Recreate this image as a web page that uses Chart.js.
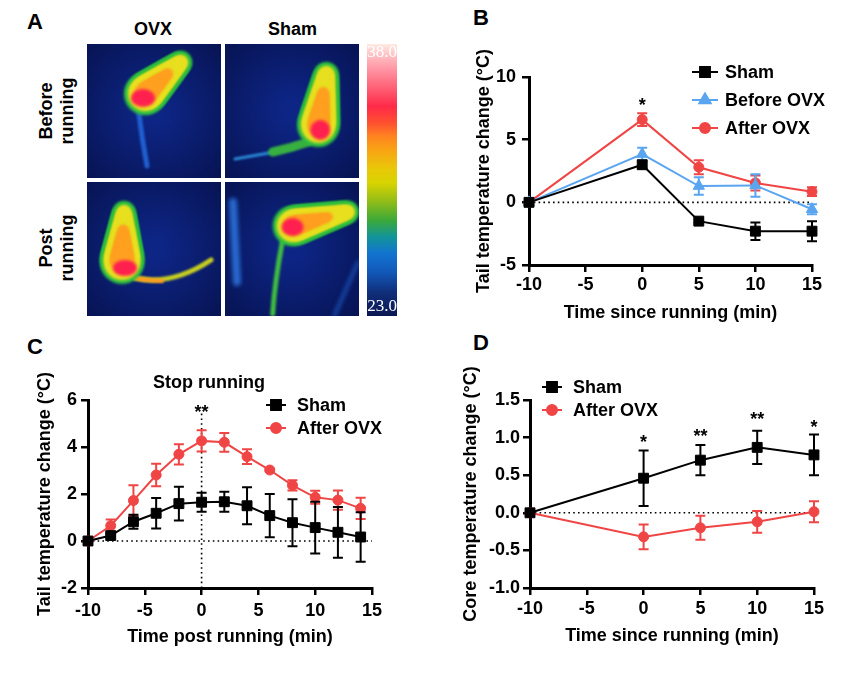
<!DOCTYPE html>
<html>
<head>
<meta charset="utf-8">
<script src="https://cdn.jsdelivr.net/npm/chart.js@4.4.1/dist/chart.umd.min.js"></script>
<style>
  body { margin: 0; background: #fff; }
  #page { position: relative; width: 846px; height: 686px; overflow: hidden;
          font-family: "Liberation Sans", Arial, sans-serif; font-weight: bold; color: #000; }
  .layer { position: absolute; left: 0; top: 0; }
  .tag { position: absolute; font-size: 22px; line-height: 22px; }
  .txt { position: absolute; font-size: 18px; line-height: 20px; white-space: nowrap; }
  .rot { position: absolute; font-size: 18px; line-height: 21px; text-align: center;
         transform: translate(-50%, -50%) rotate(-90deg); white-space: nowrap; }
  .thermo { position: absolute; width: 134px; height: 134px; }
  #bar { position: absolute; left: 367px; top: 44px; width: 30px; height: 272px;
         background: linear-gradient(to bottom, #ffeae2 0%, #ffb0b8 6%, #ff8898 11%, #ff2a48 23%,
           #ff5030 29%, #ff8420 34%, #f8a414 39%, #e8c808 46%, #d8d400 51%, #90bc18 58%,
           #3aa83a 65%, #12949a 71%, #1274d0 77%, #1258b8 84%, #10307c 91%, #0b1650 100%); }
  .bartxt { position: absolute; left: 366px; width: 32px; text-align: center;
            font: 17px "Liberation Serif", "Times New Roman", serif; color: #fff; }
</style>
</head>
<body>
<div id="page">
  <div class="tag" style="left:27px;top:11px;">A</div>
  <div class="tag" style="left:473px;top:7px;">B</div>
  <div class="tag" style="left:27px;top:336px;">C</div>
  <div class="tag" style="left:473px;top:332px;">D</div>

  <div class="txt" style="left:134px;top:19px;">OVX</div>
  <div class="txt" style="left:268px;top:19px;">Sham</div>
  <div class="rot" style="left:57px;top:111px;">Before<br>running</div>
  <div class="rot" style="left:57px;top:248px;">Post<br>running</div>

  <canvas class="thermo" id="imgTL" width="134" height="134" style="left:87px;top:44px;"></canvas>
  <canvas class="thermo" id="imgTR" width="135" height="134" style="left:225px;top:44px;"></canvas>
  <canvas class="thermo" id="imgBL" width="134" height="134" style="left:87px;top:182px;"></canvas>
  <canvas class="thermo" id="imgBR" width="135" height="134" style="left:225px;top:182px;"></canvas>
  <div id="bar"></div>
  <div class="bartxt" style="top:42px;">38.0</div>
  <div class="bartxt" style="top:296px;">23.0</div>

  <canvas class="layer" id="chartB" width="846" height="686"></canvas>
  <canvas class="layer" id="chartC" width="846" height="686"></canvas>
  <canvas class="layer" id="chartD" width="846" height="686"></canvas>
</div>

<script>
// ===== Data =====

// Panel B: tail temperature, time since running
const timeB = [-10, 0, 5, 10, 15];
const shamB = [0, 3.0, -1.5, -2.3, -2.3];
const shamBErr = [0, 0.3, 0.15, 0.7, 0.8];
const beforeB = [0, 3.85, 1.3, 1.35, -0.55];
const beforeBErr = [0, 0.5, 0.7, 0.9, 0.4];
const afterB = [0, 6.6, 2.8, 1.55, 0.85];
const afterBErr = [0, 0.5, 0.55, 0.6, 0.35];

// Panel C: tail temperature, time post running
const timeC = [-10, -8, -6, -4, -2, 0, 2, 4, 6, 8, 10, 12, 14];
const shamC = [0, 0.23, 0.82, 1.18, 1.59, 1.65, 1.67, 1.5, 1.08, 0.78, 0.57, 0.37, 0.17];
const shamCErr = [0, 0.08, 0.3, 0.65, 0.72, 0.4, 0.43, 0.79, 0.92, 1.0, 1.1, 1.08, 1.05];
const afterC = [0, 0.65, 1.72, 2.81, 3.69, 4.26, 4.2, 3.59, 3.02, 2.37, 1.86, 1.74, 1.39];
const afterCErr = [0, 0.27, 0.65, 0.48, 0.43, 0.45, 0.4, 0.31, 0.05, 0.22, 0.28, 0.41, 0.45];

// Panel D: core temperature
const timeD = [-10, 0, 5, 10, 15];
const shamD = [0, 0.46, 0.7, 0.87, 0.77];
const shamDErr = [0, 0.37, 0.2, 0.22, 0.27];
const afterD = [0, -0.32, -0.2, -0.12, 0.015];
const afterDErr = [0, 0.165, 0.16, 0.145, 0.14];

// significance marks  [x, y, text]
const starsB = [[0, 8.1, '*']];
const starsC = [[0, 5.66, '**']];
const starsD = [[0, 1.0, '*'], [5, 1.08, '**'], [10, 1.31, '**'], [15, 1.2, '*']];

const BLACK = '#000000';
const BLUE = '#5aa5f0';
const RED = '#f04545';
const FONT = 'Liberation Sans';

// ===== Helpers =====

function pts(xs, ys) {
  return xs.map((x, i) => ({ x: x, y: ys[i] }));
}

function series(label, xs, ys, errs, color, style, radius) {
  return {
    label: label, data: pts(xs, ys), errors: errs,
    borderColor: color, backgroundColor: color, borderWidth: 2,
    pointStyle: style, pointRadius: radius, pointBorderWidth: 1,
    pointBackgroundColor: color, pointBorderColor: color,
    clip: false, tension: 0
  };
}

function dotted(xs, ys) {
  return {
    label: '', data: pts(xs, ys), borderColor: BLACK, borderWidth: 1.6,
    borderDash: [1.6, 3.2], pointRadius: 0, clip: false
  };
}

// error bars drawn just before each dataset so symbols sit on top
const errorBars = {
  id: 'errorBars',
  beforeDatasetDraw(chart, args) {
    const ds = chart.data.datasets[args.index];
    if (!ds.errors) return;
    const y = chart.scales.y;
    const ctx = chart.ctx;
    ctx.save();
    ctx.strokeStyle = ds.borderColor;
    ctx.lineWidth = 2;
    args.meta.data.forEach((el, i) => {
      const e = ds.errors[i];
      if (!e) return;
      const v = ds.data[i].y;
      const t = y.getPixelForValue(v + e), b = y.getPixelForValue(v - e);
      ctx.beginPath();
      ctx.moveTo(el.x, t); ctx.lineTo(el.x, b);
      ctx.moveTo(el.x - 5, t); ctx.lineTo(el.x + 5, t);
      ctx.moveTo(el.x - 5, b); ctx.lineTo(el.x + 5, b);
      ctx.stroke();
    });
    ctx.restore();
  }
};

// legend: short line with symbol, then label
const lineLegend = {
  id: 'lineLegend',
  afterDraw(chart, args, opts) {
    if (!opts.x) return;
    const ctx = chart.ctx;
    ctx.save();
    ctx.font = 'bold 18px "' + FONT + '"';
    ctx.textBaseline = 'middle';
    chart.data.datasets.filter(d => d.errors).forEach((ds, i) => {
      const y = opts.y + i * opts.dy;
      ctx.strokeStyle = ds.borderColor;
      ctx.fillStyle = ds.borderColor;
      ctx.lineWidth = 2;
      ctx.beginPath();
      ctx.moveTo(opts.x - opts.half, y);
      ctx.lineTo(opts.x + opts.half, y);
      ctx.stroke();
      Chart.helpers.drawPoint(ctx, { pointStyle: ds.pointStyle, radius: ds.pointRadius, rotation: 0, borderWidth: 1 }, opts.x, y);
      ctx.fillStyle = BLACK;
      ctx.fillText(ds.label, opts.textX, y + 1);
    });
    ctx.restore();
  }
};

// text notes placed in data coordinates
const notes = {
  id: 'notes',
  afterDatasetsDraw(chart, args, opts) {
    const ctx = chart.ctx, sx = chart.scales.x, sy = chart.scales.y;
    ctx.save();
    ctx.fillStyle = BLACK;
    ctx.textAlign = 'center';
    (opts.stars || []).forEach(([x, y, t]) => {
      ctx.font = 'bold 18px "' + FONT + '"';
      ctx.textBaseline = 'alphabetic';
      ctx.fillText(t, sx.getPixelForValue(x), sy.getPixelForValue(y) + 10.5);
    });
    (opts.text || []).forEach(([x, y, t]) => {
      ctx.font = 'bold 18px "' + FONT + '"';
      ctx.textBaseline = 'middle';
      ctx.fillText(t, sx.getPixelForValue(x), sy.getPixelForValue(y));
    });
    ctx.restore();
  }
};

// p: plot area in page px, title centres, tick paddings
function panelOptions(p) {
  const tickFont = { family: FONT, size: 18, weight: 'bold' };
  const grid = { display: true, drawOnChartArea: false, drawTicks: true, tickLength: 7,
                 tickWidth: 2.5, tickColor: BLACK, color: BLACK, lineWidth: 2.5 };
  const border = { display: true, color: BLACK, width: 3 };
  const boxLeft = p.yTitleX - 10.8;
  const boxBottom = p.xTitleY + 10.8;
  return {
    responsive: false,
    animation: false,
    layout: { padding: { left: boxLeft, top: p.top, right: 846 - p.right, bottom: 686 - boxBottom } },
    plugins: {
      legend: { display: false },
      tooltip: { enabled: false },
      lineLegend: p.legend,
      notes: p.notes
    },
    scales: {
      x: {
        type: 'linear', min: -10, max: 15,
        ticks: { stepSize: 5, padding: p.xPad, font: tickFont, color: BLACK, maxRotation: 0 },
        grid: grid, border: border,
        title: { display: true, text: p.xTitle, font: tickFont, color: BLACK, padding: 0 },
        afterFit(s) { s.height = boxBottom - p.bottom; }
      },
      y: {
        type: 'linear', min: p.yMin, max: p.yMax,
        ticks: { stepSize: p.yStep, padding: p.yPad, font: tickFont, color: BLACK,
                 callback: v => p.yDec ? v.toFixed(p.yDec) : String(v) },
        grid: grid, border: border,
        title: { display: true, text: p.yTitle, font: tickFont, color: BLACK, padding: 0 },
        afterFit(s) { s.width = p.left - boxLeft; }
      }
    }
  };
}

const plugins = [errorBars, lineLegend, notes];

// ===== Panel B =====
new Chart(document.getElementById('chartB'), {
  type: 'line',
  data: {
    datasets: [
      series('Sham', timeB, shamB, shamBErr, BLACK, 'rect', 7),
      series('Before OVX', timeB, beforeB, beforeBErr, BLUE, 'triangle', 6.5),
      series('After OVX', timeB, afterB, afterBErr, RED, 'circle', 5),
      dotted([-10, 15], [0, 0])
    ]
  },
  options: panelOptions({
    left: 529, right: 812, top: 77, bottom: 265, yTitleX: 484, xTitleY: 313,
    xPad: 2, yPad: 6, yMin: -5, yMax: 10, yStep: 5,
    xTitle: 'Time since running (min)', yTitle: 'Tail temperature change (°C)',
    legend: { x: 705, half: 13, textX: 725, y: 72, dy: 28 },
    notes: { stars: starsB }
  }),
  plugins: plugins
});

// ===== Panel C =====
new Chart(document.getElementById('chartC'), {
  type: 'line',
  data: {
    datasets: [
      series('Sham', timeC, shamC, shamCErr, BLACK, 'rect', 7),
      series('After OVX', timeC, afterC, afterCErr, RED, 'circle', 5),
      dotted([-10, 15], [0, 0]),
      dotted([0, 0], [-2, 5.5])
    ]
  },
  options: panelOptions({
    left: 88, right: 372, top: 400, bottom: 588, yTitleX: 45, xTitleY: 637,
    xPad: 5, yPad: 4, yMin: -2, yMax: 6, yStep: 2,
    xTitle: 'Time post running (min)', yTitle: 'Tail temperature change (°C)',
    legend: { x: 276, half: 10, textX: 297, y: 405, dy: 23 },
    notes: { stars: starsC, text: [[0.65, 6.72, 'Stop running']] }
  }),
  plugins: plugins
});

// ===== Panel D =====
new Chart(document.getElementById('chartD'), {
  type: 'line',
  data: {
    datasets: [
      series('Sham', timeD, shamD, shamDErr, BLACK, 'rect', 7),
      series('After OVX', timeD, afterD, afterDErr, RED, 'circle', 5),
      dotted([-10, 15], [0, 0])
    ]
  },
  options: panelOptions({
    left: 530, right: 814, top: 400, bottom: 588, yTitleX: 471, xTitleY: 636,
    xPad: 3.5, yPad: 3, yMin: -1, yMax: 1.5, yStep: 0.5, yDec: 1,
    xTitle: 'Time since running (min)', yTitle: 'Core temperature change (°C)',
    legend: { x: 552, half: 10, textX: 573, y: 387, dy: 23 },
    notes: { stars: starsD }
  }),
  plugins: plugins
});

// ===== Panel A: thermal pictures (decorative) =====

function thermal(id, rat) {
  const c = document.getElementById(id);
  const ctx = c.getContext('2d');
  const g = ctx.createRadialGradient(67, 67, 10, 67, 67, 110);
  g.addColorStop(0, '#0d2585');
  g.addColorStop(1, '#06104a');
  ctx.fillStyle = g;
  ctx.fillRect(0, 0, c.width, c.height);

  (rat.extra || []).forEach(s => {
    ctx.save();
    ctx.filter = 'blur(2px)';
    ctx.strokeStyle = s.color; ctx.lineWidth = s.w; ctx.lineCap = 'round';
    ctx.beginPath(); ctx.moveTo(s.p[0], s.p[1]); ctx.lineTo(s.p[2], s.p[3]); ctx.stroke();
    ctx.restore();
  });

  // tail
  ctx.save();
  ctx.filter = 'blur(1px)';
  ctx.lineCap = 'round';
  rat.tail.forEach(s => {
    ctx.strokeStyle = s.color; ctx.lineWidth = s.w;
    ctx.beginPath();
    ctx.moveTo(s.p[0], s.p[1]);
    ctx.quadraticCurveTo(s.p[2], s.p[3], s.p[4], s.p[5]);
    ctx.stroke();
  });
  ctx.restore();

  // body: tapered capsule in layers
  const layers = [['#2fc040', 4, 0], ['#e8e020', 0, 0], ['#ffa020', -6, 0.35]];
  ctx.save();
  ctx.filter = 'blur(1.5px)';
  layers.forEach(([col, grow, from]) => {
    ctx.fillStyle = col;
    for (let t = from; t <= 1.0001; t += 0.04) {
      const x = rat.head[0] + (rat.rump[0] - rat.head[0]) * t;
      const y = rat.head[1] + (rat.rump[1] - rat.head[1]) * t;
      const r = rat.rh + (rat.rr - rat.rh) * t + grow;
      if (r <= 0) continue;
      ctx.beginPath(); ctx.arc(x, y, r, 0, Math.PI * 2); ctx.fill();
    }
  });
  ctx.fillStyle = '#ff2050';
  ctx.beginPath();
  ctx.ellipse(rat.hot[0], rat.hot[1], rat.hot[2], rat.hot[3], 0, 0, Math.PI * 2);
  ctx.fill();
  ctx.restore();
}

thermal('imgTL', {
  head: [94, 18], rump: [58, 50], rh: 7, rr: 17, hot: [56, 54, 12, 9],
  tail: [{ color: '#2060d0', w: 5, p: [52, 70, 55, 95, 60, 122] }]
});
thermal('imgTR', {
  head: [102, 30], rump: [94, 82], rh: 8, rr: 17, hot: [96, 86, 10, 10],
  tail: [{ color: '#2a8ad8', w: 3, p: [70, 104, 40, 110, 10, 115] },
         { color: '#38b040', w: 9, p: [84, 98, 66, 104, 48, 108] }]
});
thermal('imgBL', {
  head: [37, 30], rump: [35, 80], rh: 7, rr: 18, hot: [38, 86, 12, 8],
  tail: [{ color: '#c8d020', w: 5, p: [48, 96, 85, 104, 124, 78] },
         { color: '#ff9a20', w: 4, p: [48, 96, 62, 99, 75, 99] }]
});
thermal('imgBR', {
  head: [124, 30], rump: [68, 44], rh: 7, rr: 16, hot: [68, 45, 11, 9],
  tail: [{ color: '#40c040', w: 5, p: [58, 58, 50, 100, 48, 132] }],
  extra: [{ color: '#2a6ad0', w: 8, p: [8, 20, 12, 100] },
          { color: '#1e58c0', w: 3, p: [134, 80, 110, 134] }]
});
</script>
</body>
</html>
